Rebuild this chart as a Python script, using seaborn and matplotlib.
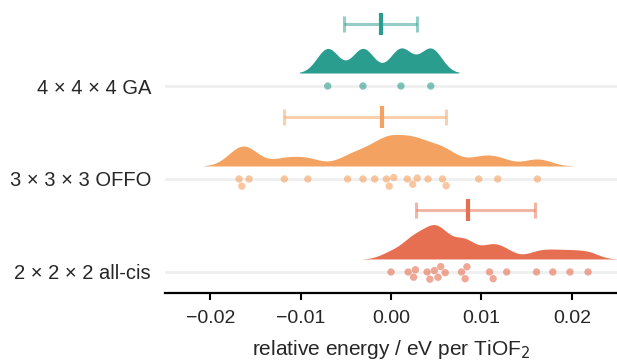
import matplotlib
matplotlib.use("Agg")
import matplotlib.pyplot as plt
import matplotlib.transforms as mtransforms
import numpy as np
import pandas as pd
import seaborn as sns

labels = ["4 × 4 × 4 GA", "3 × 3 × 3 OFFO", "2 × 2 × 2 all-cis"]
colors = ["#2a9d8f", "#f4a261", "#e76f51"]

ga = [-0.0070, -0.0031, 0.0011, 0.0044]
offo = [
    -0.0168, -0.0165, -0.0157, -0.0118, -0.0092, -0.0048, -0.0031,
    -0.0018, -0.0005, -0.0002, 0.0003, 0.0018, 0.0024, 0.0029,
    0.0041, 0.0057, 0.0061, 0.0097, 0.0118, 0.0162,
]
allcis = [
    0.0000, 0.0019, 0.0025, 0.0027, 0.0040, 0.0043, 0.0048, 0.0052,
    0.0055, 0.0060, 0.0078, 0.0082, 0.0084, 0.0109, 0.0113, 0.0128,
    0.0161, 0.0179, 0.0198, 0.0218,
]

# centre mark and interval ends of the bar above each cloud
centres = [-0.0011, -0.0010, 0.0085]
lows = [-0.0052, -0.0118, 0.0028]
highs = [0.0029, 0.0061, 0.0159]

groups = [ga, offo, allcis]
df = pd.concat(
    [pd.DataFrame({"energy": g, "structure": lab}) for g, lab in zip(groups, labels)],
    ignore_index=True,
)

sns.set_style("white")
plt.rcParams["font.family"] = ["Liberation Sans", "DejaVu Sans"]

fig = plt.figure(figsize=(6.17, 3.61), dpi=100)
ax = fig.add_axes([165 / 617, 1 - 293 / 361, 1 - 165 / 617, 293 / 361])

cloud_heights = [0.27, 0.34, 0.37]
bandwidths = [0.0012, 0.0015, 0.0012]
cloud_gap = 0.14  # space between cloud and rain

for lab, g, col, h, bw in zip(labels, groups, colors, cloud_heights, bandwidths):
    sub = df[df["structure"] == lab]
    n_before = len(ax.collections)
    sns.violinplot(
        data=sub, x="energy", y="structure", order=labels, split=True,
        inner=None, cut=2.6, bw_method=bw / np.std(g, ddof=1),
        width=h, color=col, linewidth=0, saturation=1, ax=ax,
    )
    # lift the half violin so it sits just above the points
    lift = mtransforms.Affine2D().translate(0, -(h / 2 + cloud_gap)) + ax.transData
    for coll in ax.collections[n_before:]:
        coll.set_transform(lift)

sns.swarmplot(
    data=df, x="energy", y="structure", order=labels, hue="structure",
    hue_order=labels, palette=colors, size=5.3, alpha=0.6, legend=False, ax=ax,
)

# interval bar above each cloud
bar_y = np.arange(len(labels)) - 0.667
for c, lo, hi, y, col in zip(centres, lows, highs, bar_y, colors):
    ax.errorbar(c, y, xerr=[[c - lo], [hi - c]], fmt="none", ecolor=col,
                alpha=0.5, elinewidth=2.2, capsize=6, capthick=2.2)
    ax.plot(c, y, marker="|", ms=16, mew=3, color=col, ls="none")

ax.set_xlim(-0.025, 0.025)
ax.set_ylim(2.226, -0.925)
ax.set_xticks([-0.02, -0.01, 0.0, 0.01, 0.02])
ax.grid(axis="y", color="#efefef", lw=2)
ax.grid(axis="x", visible=False)
ax.set_axisbelow(True)
for s in ["left", "top", "right"]:
    ax.spines[s].set_visible(False)
ax.spines["bottom"].set_color("black")
ax.spines["bottom"].set_linewidth(1.6)
ax.tick_params(axis="y", length=0, labelsize=14.5, pad=10)
ax.tick_params(axis="x", length=5, width=1.5, color="black", labelsize=14,
               bottom=True, pad=7)
ax.set_ylabel("")
ax.set_xlabel("relative energy / eV per TiOF$_2$", fontsize=15, labelpad=8)

fig.savefig("out.png", dpi=100)
